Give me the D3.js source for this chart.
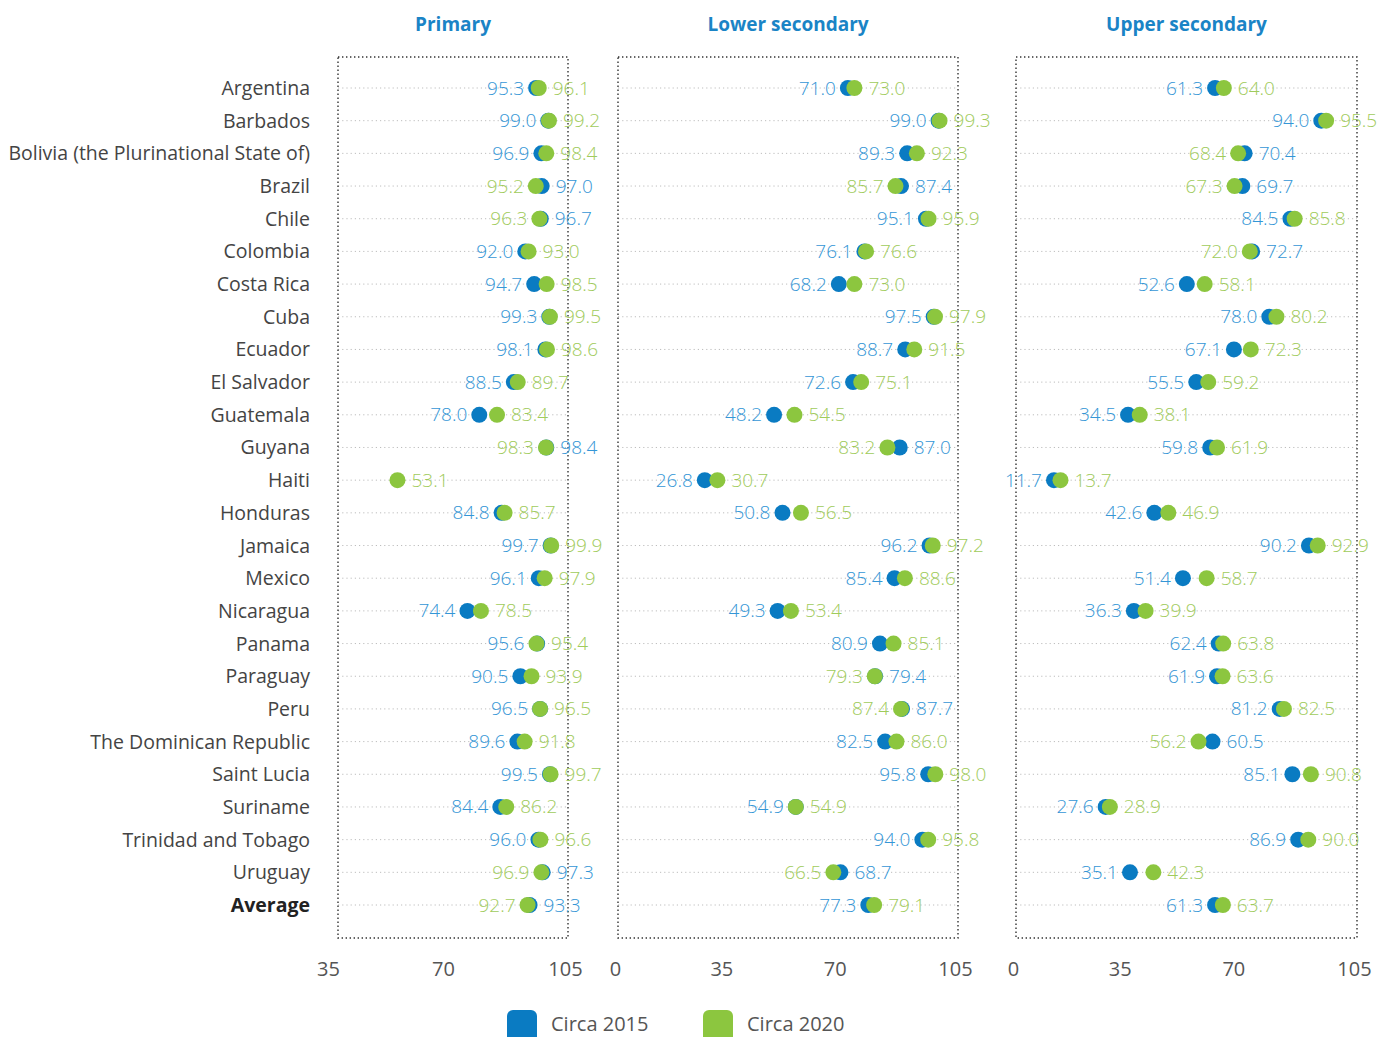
<!DOCTYPE html>
<html>
<head>
<meta charset="utf-8">
<script src="https://cdn.jsdelivr.net/npm/d3@7"></script>
<style>
  html, body { margin: 0; padding: 0; background: #fff; }
  svg { display: block; font-family: "Open Sans", "Noto Sans", sans-serif; }
</style>
</head>
<body>
<svg id="chart" width="1379" height="1037"></svg>
<script>
const countries = ["Argentina","Barbados","Bolivia (the Plurinational State of)","Brazil","Chile","Colombia","Costa Rica","Cuba","Ecuador","El Salvador","Guatemala","Guyana","Haiti","Honduras","Jamaica","Mexico","Nicaragua","Panama","Paraguay","Peru","The Dominican Republic","Saint Lucia","Suriname","Trinidad and Tobago","Uruguay","Average"];

const primary2015 = [95.3,99.0,96.9,97.0,96.7,92.0,94.7,99.3,98.1,88.5,78.0,98.4,null,84.8,99.7,96.1,74.4,95.6,90.5,96.5,89.6,99.5,84.4,96.0,97.3,93.3];
const primary2020 = [96.1,99.2,98.4,95.2,96.3,93.0,98.5,99.5,98.6,89.7,83.4,98.3,53.1,85.7,99.9,97.9,78.5,95.4,93.9,96.5,91.8,99.7,86.2,96.6,96.9,92.7];
const lower2015 = [71.0,99.0,89.3,87.4,95.1,76.1,68.2,97.5,88.7,72.6,48.2,87.0,26.8,50.8,96.2,85.4,49.3,80.9,79.4,87.7,82.5,95.8,54.9,94.0,68.7,77.3];
const lower2020 = [73.0,99.3,92.3,85.7,95.9,76.6,73.0,97.9,91.5,75.1,54.5,83.2,30.7,56.5,97.2,88.6,53.4,85.1,79.3,87.4,86.0,98.0,54.9,95.8,66.5,79.1];
const upper2015 = [61.3,94.0,70.4,69.7,84.5,72.7,52.6,78.0,67.1,55.5,34.5,59.8,11.7,42.6,90.2,51.4,36.3,62.4,61.9,81.2,60.5,85.1,27.6,86.9,35.1,61.3];
const upper2020 = [64.0,95.5,68.4,67.3,85.8,72.0,58.1,80.2,72.3,59.2,38.1,61.9,13.7,46.9,92.9,58.7,39.9,63.8,63.6,82.5,56.2,90.8,28.9,90.0,42.3,63.7];

const panelTitles = ["Primary","Lower secondary","Upper secondary"];
const primaryTicks = [35,70,105];
const secondaryTicks = [0,35,70,105];
const seriesNames = ["Circa 2015","Circa 2020"];
// label sides swapped versus the value ordering in the original
const labelSwaps = [["Primary","Panama"]];

const C15 = "#0a7bc2", C20 = "#8cc63f";
const T15 = "#3496d6", T20 = "#9fcb5c";

const svg = d3.select("#chart");
const y = d3.scalePoint().domain(countries).range([88, 905]);
const frameTop = 57, frameBottom = 938;

const panels = [
  {title: panelTitles[0], a: primary2015, b: primary2020, domain: [35,105], range: [338,568], ticks: primaryTicks},
  {title: panelTitles[1], a: lower2015, b: lower2020, domain: [0,105], range: [618,958], ticks: secondaryTicks},
  {title: panelTitles[2], a: upper2015, b: upper2020, domain: [0,105], range: [1016,1357], ticks: secondaryTicks}
];

// country labels
svg.append("g").selectAll("text").data(countries).join("text")
  .attr("x", 310).attr("y", d => y(d) + 7)
  .attr("text-anchor", "end")
  .attr("font-size", 19.5)
  .attr("font-weight", d => d === "Average" ? 700 : 400)
  .attr("fill", d => d === "Average" ? "#222" : "#444")
  .text(d => d);

panels.forEach(p => {
  const x = d3.scaleLinear().domain(p.domain).range(p.range);
  const g = svg.append("g");
  const [x0, x1] = p.range;

  g.append("text").attr("x", (x0 + x1) / 2).attr("y", 31)
    .attr("text-anchor", "middle").attr("font-size", 19).attr("font-weight", 700)
    .attr("fill", "#1a84c6").text(p.title);

  // gridlines
  g.append("g").selectAll("line").data(countries).join("line")
    .attr("x1", x0).attr("x2", x1)
    .attr("y1", d => y(d)).attr("y2", d => y(d))
    .attr("stroke", "#bdbdbd").attr("stroke-width", 1).attr("stroke-dasharray", "1.2,3");

  // frame
  g.append("rect").attr("x", x0).attr("y", frameTop).attr("width", x1 - x0).attr("height", frameBottom - frameTop)
    .attr("fill", "none").attr("stroke", "#333").attr("stroke-width", 1.4).attr("stroke-dasharray", "1.4,2.6");

  // axis
  const ax = g.append("g").attr("transform", `translate(0,${frameBottom})`)
    .call(d3.axisBottom(x).tickValues(p.ticks).tickSize(0).tickPadding(24).tickFormat(d3.format("d")));
  ax.select(".domain").remove();
  ax.selectAll("text").attr("font-size", 20).attr("fill", "#555")
    .attr("font-family", "'Open Sans', sans-serif")
    .attr("dx", (d, i) => (i === p.ticks.length - 1 || d === 0) ? -3 : -10);

  const rows = countries.map((c, i) => ({c, a: p.a[i], b: p.b[i]}));

  // dots
  g.append("g").selectAll("circle").data(rows.filter(r => r.a != null)).join("circle")
    .attr("cx", r => x(r.a)).attr("cy", r => y(r.c)).attr("r", 8).attr("fill", C15);
  g.append("g").selectAll("circle").data(rows.filter(r => r.b != null)).join("circle")
    .attr("cx", r => x(r.b)).attr("cy", r => y(r.c)).attr("r", 8).attr("fill", C20);

  // labels
  const lab = g.append("g").attr("font-size", 19).attr("font-weight", 300);
  rows.forEach(r => {
    const vals = [];
    if (r.a != null) vals.push({v: r.a, col: T15, s: 0});
    if (r.b != null) vals.push({v: r.b, col: T20, s: 1});
    const cy = y(r.c) + 6.5;
    if (vals.length === 1) {
      lab.append("text").attr("x", x(vals[0].v) + 14).attr("y", cy).attr("fill", vals[0].col).text(vals[0].v.toFixed(1));
      return;
    }
    let blueLeft = r.a <= r.b;
    if (labelSwaps.some(s => s[0] === p.title && s[1] === r.c)) blueLeft = !blueLeft;
    const left = blueLeft ? vals[0] : vals[1];
    const right = blueLeft ? vals[1] : vals[0];
    const minX = Math.min(x(r.a), x(r.b)), maxX = Math.max(x(r.a), x(r.b));
    lab.append("text").attr("x", minX - 12).attr("y", cy).attr("text-anchor", "end").attr("fill", left.col).text(left.v.toFixed(1));
    lab.append("text").attr("x", maxX + 14).attr("y", cy).attr("fill", right.col).text(right.v.toFixed(1));
  });
});

// legend
const legX = [507, 703];
const leg = svg.append("g");
seriesNames.forEach((n, i) => {
  leg.append("rect").attr("x", legX[i]).attr("y", 1010).attr("width", 30).attr("height", 32)
    .attr("rx", 6).attr("fill", i === 0 ? C15 : C20);
  leg.append("text").attr("x", legX[i] + 44).attr("y", 1031).attr("font-size", 20)
    .attr("fill", "#555").text(n);
});
</script>
</body>
</html>
